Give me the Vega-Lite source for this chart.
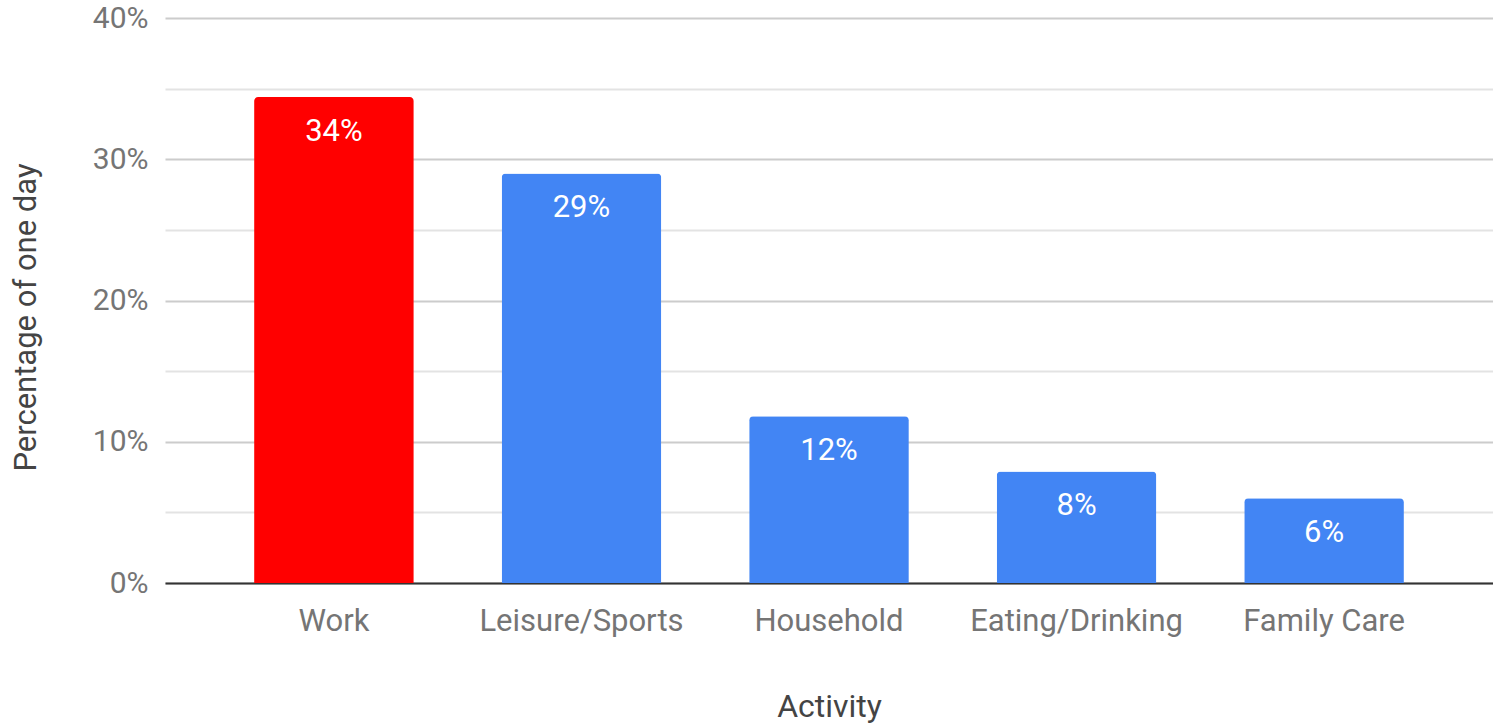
{
  "$schema": "https://vega.github.io/schema/vega-lite/v6.json",
  "width": 1328,
  "height": 565,
  "autosize": "none",
  "padding": {"left": 165, "top": 18, "right": 0, "bottom": 142},
  "background": "white",
  "config": {
    "view": {"stroke": null},
    "font": "Roboto"
  },
  "data": {
    "values": [
      {"activity": "Work", "share": 0.344, "highlight": "yes"},
      {"activity": "Leisure/Sports", "share": 0.29, "highlight": "no"},
      {"activity": "Household", "share": 0.118, "highlight": "no"},
      {"activity": "Eating/Drinking", "share": 0.079, "highlight": "no"},
      {"activity": "Family Care", "share": 0.06, "highlight": "no"}
    ]
  },
  "encoding": {
    "x": {
      "field": "activity",
      "type": "nominal",
      "sort": null,
      "scale": {"paddingInner": 0.355, "paddingOuter": 0.36},
      "axis": {
        "title": "Activity",
        "labelAngle": 0,
        "labelFontSize": 31,
        "labelColor": "#757575",
        "labelPadding": 23,
        "labelLimit": 0,
        "ticks": false,
        "domainColor": "#333333",
        "domainWidth": 2,
        "titleFontSize": 32,
        "titleFontWeight": "normal",
        "titleColor": "#444444",
        "titlePadding": 55
      }
    },
    "y": {
      "field": "share",
      "type": "quantitative",
      "scale": {"domain": [0, 0.4], "nice": false},
      "axis": {
        "title": "Percentage of one day",
        "values": [0, 0.05, 0.1, 0.15, 0.2, 0.25, 0.3, 0.35, 0.4],
        "labelExpr": "round(datum.value*100) % 10 == 0 ? round(datum.value*100) + '%' : ''",
        "labelFontSize": 30,
        "labelColor": "#757575",
        "labelPadding": 17,
        "ticks": false,
        "domain": false,
        "gridColor": {"condition": {"test": "round(datum.value*100) % 10 == 0", "value": "#cccccc"}, "value": "#e3e3e3"},
        "gridWidth": 2,
        "titleFontSize": 31,
        "titleFontWeight": "normal",
        "titleColor": "#444444",
        "titlePadding": 50,
        "titleY": 299
      }
    }
  },
  "layer": [
    {
      "mark": {"type": "bar", "cornerRadiusTopLeft": 4, "cornerRadiusTopRight": 4},
      "encoding": {
        "color": {
          "field": "highlight",
          "type": "nominal",
          "scale": {"domain": ["yes", "no"], "range": ["#ff0000", "#4285f4"]},
          "legend": null
        }
      }
    },
    {
      "mark": {"type": "text", "baseline": "middle", "dy": 35, "fontSize": 31, "color": "white"},
      "encoding": {
        "text": {"field": "share", "type": "quantitative", "format": ".0%"}
      }
    }
  ]
}
